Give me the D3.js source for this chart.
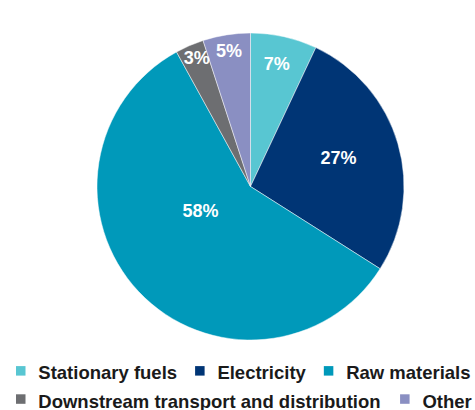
<!DOCTYPE html>
<html>
<head>
<meta charset="utf-8">
<script src="https://cdn.jsdelivr.net/npm/d3@7"></script>
<style>
  html, body { margin: 0; padding: 0; background: #fff; }
  svg { display: block; }
  text { font-family: "Liberation Sans", Arial, sans-serif; font-weight: bold; }
</style>
</head>
<body>
<svg id="chart" width="475" height="410"></svg>
<script>
// Emission sources, share of total (%)
const categories = ["Stationary fuels", "Electricity", "Raw materials", "Downstream transport and distribution", "Other"];
const shares = [7, 27, 58, 3, 5];
const colors = ["#58C6D2", "#003575", "#0099BA", "#6D6E71", "#8A8FC2"];

// Where each percentage label sits: fraction across the slice's angle, fraction of the radius
const labelAlong = [0.48, 0.48, 0.58, 0.56, 0.5];
const labelRadius = [0.816, 0.604, 0.364, 0.907, 0.894];

// Legend rows (indices into categories)
const legendRows = [[0, 1, 2], [3, 4]];

const svg = d3.select("#chart");
const cx = 250.5, cy = 186.5, R = 153.5;

const pie = d3.pie().sort(null).value(d => d)(shares);
const arc = d3.arc().innerRadius(0).outerRadius(R);

const g = svg.append("g").attr("transform", `translate(${cx},${cy})`);

g.selectAll("path.slice")
  .data(pie)
  .join("path")
  .attr("class", "slice")
  .attr("d", arc)
  .attr("fill", (d, i) => colors[i])
  .attr("stroke", "#ffffff")
  .attr("stroke-width", 0.6)
  .attr("stroke-opacity", 0.8);

g.selectAll("text.pct")
  .data(pie)
  .join("text")
  .attr("class", "pct")
  .attr("text-anchor", "middle")
  .attr("dominant-baseline", "central")
  .attr("fill", "#ffffff")
  .attr("font-size", 18)
  .attr("transform", (d, i) => {
    const a = d.startAngle + (d.endAngle - d.startAngle) * labelAlong[i];
    const r = R * labelRadius[i];
    return `translate(${r * Math.sin(a)},${-r * Math.cos(a)})`;
  })
  .text(d => d.data + "%");

// Legend
const legend = svg.append("g");
const rowBaselines = [379.3, 407.5];
const rowGaps = [18, 19.5];
const startX = 16, swatch = 9.5, swatchToText = 22.3, fontSize = 18.5;

legendRows.forEach((row, ri) => {
  let x = startX;
  row.forEach(idx => {
    legend.append("rect")
      .attr("x", x)
      .attr("y", rowBaselines[ri] - 13.2)
      .attr("width", swatch)
      .attr("height", swatch)
      .attr("fill", colors[idx]);
    const t = legend.append("text")
      .attr("x", x + swatchToText)
      .attr("y", rowBaselines[ri])
      .attr("font-size", fontSize)
      .attr("fill", "#1a1a1a")
      .text(categories[idx]);
    x += swatchToText + t.node().getComputedTextLength() + rowGaps[ri];
  });
});
</script>
</body>
</html>
